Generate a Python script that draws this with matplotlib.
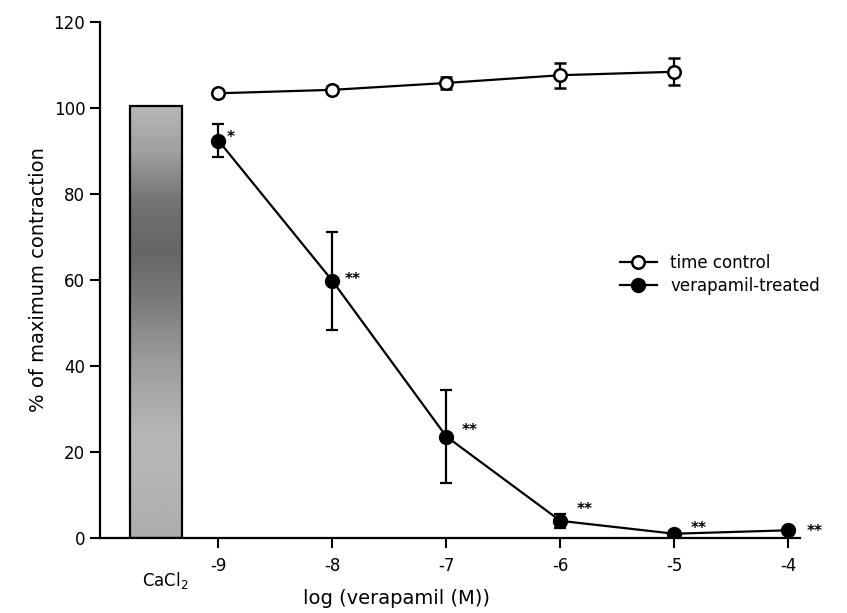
import numpy as np
import matplotlib
matplotlib.use("Agg")
import matplotlib.pyplot as plt
from matplotlib.lines import Line2D

# log molar concentrations of verapamil
log_conc = [-9, -8, -7, -6, -5, -4]

# time control (open circles), one fewer point than the treated series
control_x = [-9, -8, -7, -6, -5]
control_mean = [103.4, 104.2, 105.8, 107.6, 108.4]
control_err = [0.6, 0.8, 1.4, 2.9, 3.1]

# verapamil-treated (filled circles)
treated_mean = [92.4, 59.8, 23.6, 4.0, 1.0, 1.8]
treated_err = [3.9, 11.4, 10.9, 1.6, 0.4, 0.4]
treated_sig = ["*", "**", "**", "**", "**", "**"]

# CaCl2 reference contraction bar
cacl2_x = -9.55
cacl2_value = 100.5

fig = plt.figure(figsize=(8.47, 6.13), dpi=100)
ax = fig.add_axes([0.118, 0.1223, 0.826, 0.842])

# CaCl2 bar with a shaded gray fill
bar = ax.bar([cacl2_x], [cacl2_value], width=0.46, facecolor="none",
             edgecolor="black", linewidth=1.6, zorder=3)[0]
shade = np.array([0.72, 0.62, 0.45, 0.40, 0.47, 0.58, 0.66, 0.72, 0.70, 0.68])
grad = np.interp(np.linspace(0, 9, 200), np.arange(10), shade)[:, None]
img = ax.imshow(grad, cmap="gray", vmin=0, vmax=1, aspect="auto",
                extent=[cacl2_x - 0.23, cacl2_x + 0.23, 0, cacl2_value],
                origin="upper", zorder=2)
img.set_clip_path(bar)

ax.errorbar(control_x, control_mean, yerr=control_err, color="black",
            marker="o", markersize=9, markerfacecolor="white",
            markeredgewidth=1.8, linewidth=1.6, capsize=4, capthick=1.6,
            elinewidth=1.6, zorder=4)
ax.errorbar(log_conc, treated_mean, yerr=treated_err, color="black",
            marker="o", markersize=10, markerfacecolor="black",
            linewidth=1.6, capsize=4, capthick=1.6, elinewidth=1.6,
            zorder=4)

# significance markers
offsets = [(6, 2), (9, 1), (11, 4), (12, 8), (12, 4), (13, -1)]
for x, y, s, off in zip(log_conc, treated_mean, treated_sig, offsets):
    ax.annotate(s, (x, y), xytext=off, textcoords="offset points",
                fontsize=11, fontweight="bold", ha="left", va="center")

ax.set_xlim(-10.04, -3.9)
ax.set_ylim(0, 120)
ax.set_yticks(range(0, 121, 20))
ax.set_xticks(log_conc)
ax.set_xticklabels([str(v) for v in log_conc])
ax.tick_params(axis="both", labelsize=12, width=1.5, length=7, direction="out")
ax.tick_params(axis="x", pad=7)

ax.text(cacl2_x + 0.08, -7.5, "CaCl$_2$", ha="center", va="top", fontsize=12)

for side in ("top", "right"):
    ax.spines[side].set_visible(False)
for side in ("left", "bottom"):
    ax.spines[side].set_linewidth(1.6)

ax.set_xlabel("log (verapamil (M))", fontsize=14)
ax.xaxis.set_label_coords(0.424, -0.098)
ax.set_ylabel("% of maximum contraction", fontsize=14, labelpad=4)

handles = [
    Line2D([], [], color="black", linewidth=1.6, marker="o", markersize=9,
           markerfacecolor="white", markeredgewidth=1.8),
    Line2D([], [], color="black", linewidth=1.6, marker="o", markersize=10,
           markerfacecolor="black"),
]
ax.legend(handles, ["time control", "verapamil-treated"], loc="upper left",
          bbox_to_anchor=(0.722, 0.58), frameon=False, fontsize=12,
          handlelength=2.2, handletextpad=0.8, labelspacing=0.3)

fig.savefig("out.png", dpi=100)
